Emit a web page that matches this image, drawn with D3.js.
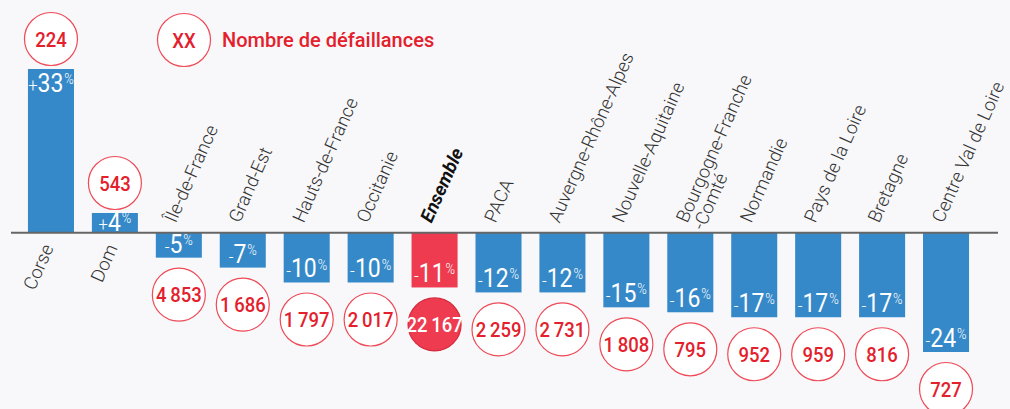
<!DOCTYPE html>
<html>
<head>
<meta charset="utf-8">
<script src="https://cdn.jsdelivr.net/npm/d3@7"></script>
<style>
  body { margin: 0; background: #f8f8fa; }
  svg { display: block; }
</style>
</head>
<body>
<script>
var regions = ["Corse", "Dom", "Île-de-France", "Grand-Est", "Hauts-de-France", "Occitanie", "Ensemble",
  "PACA", "Auvergne-Rhône-Alpes", "Nouvelle-Aquitaine", "Bourgogne-Franche|-Comté", "Normandie",
  "Pays de la Loire", "Bretagne", "Centre Val de Loire"];
var evolution = [33, 4, -5, -7, -10, -10, -11, -12, -12, -15, -16, -17, -17, -17, -24];
var defaillances = [224, 543, 4853, 1686, 1797, 2017, 22167, 2259, 2731, 1808, 795, 952, 959, 816, 727];
var highlight = "Ensemble";

var width = 1010, height = 409;
var blue = "#3589c9", red = "#ee3b4f", textRed = "#e3202c";
var font = "Roboto, sans-serif";

var data = regions.map(function(r, i) {
  return {name: r, evo: evolution[i], nb: defaillances[i]};
});

var svg = d3.select("body").append("svg")
    .attr("width", width)
    .attr("height", height);

var x = d3.scaleBand().domain(regions).range([19, 978]).paddingInner(0.28).paddingOuter(0.14);
var y = d3.scaleLinear().domain([-24, 33]).range([352, 69]);
var y0 = y(0);

var fmt = d3.formatLocale({decimal: ",", thousands: "\u2009", grouping: [3], currency: ["", "€"]}).format(",d");

function cx(d) { return x(d.name) + x.bandwidth() / 2; }

// bars
svg.append("g").selectAll("rect")
    .data(data)
  .enter().append("rect")
    .attr("x", function(d) { return x(d.name); })
    .attr("y", function(d) { return Math.min(y(d.evo), y0); })
    .attr("width", x.bandwidth())
    .attr("height", function(d) { return Math.abs(y(d.evo) - y0); })
    .attr("fill", function(d) { return d.name == highlight ? red : blue; });

// percent labels inside bars
var pct = svg.append("g").selectAll("text")
    .data(data)
  .enter().append("text")
    .attr("transform", function(d) {
      var ty = d.evo > 0 ? Math.min(y(d.evo) + 23, y0 - 2) : y(d.evo) - 5;
      return "translate(" + cx(d) + "," + ty + ") scale(0.92,1)";
    })
    .attr("text-anchor", "middle")
    .attr("fill", "#fff")
    .style("font-family", font);
pct.append("tspan")
    .style("font-size", "18px")
    .style("font-weight", 300)
    .text(function(d) { return d.evo > 0 ? "+" : "-"; });
pct.append("tspan")
    .style("font-size", "25px")
    .text(function(d) { return Math.abs(d.evo); });
pct.append("tspan")
    .style("font-size", "14px")
    .style("font-weight", 300)
    .attr("dx", 1)
    .attr("dy", -8)
    .text("%");

// axis line
svg.append("line")
    .attr("x1", 11).attr("x2", 998)
    .attr("y1", y0).attr("y2", y0)
    .attr("stroke", "#666")
    .attr("stroke-width", 2);

// region labels
var lab = svg.append("g").selectAll("text")
    .data(data)
  .enter().append("text")
    .attr("transform", function(d) {
      return d.evo > 0
        ? "translate(" + (cx(d) + 3) + "," + (y0 + 15) + ") rotate(-66)"
        : "translate(" + (cx(d) - 3) + "," + (y0 - 9) + ") rotate(-66)";
    })
    .attr("text-anchor", function(d) { return d.evo > 0 ? "end" : "start"; })
    .attr("fill", function(d) { return d.name == highlight ? "#111" : "#333"; })
    .style("font-family", font)
    .style("font-weight", function(d) { return d.name == highlight ? 700 : 300; })
    .style("font-style", function(d) { return d.name == highlight ? "italic" : "normal"; })
    .style("font-size", "18.5px");
lab.each(function(d) {
  var parts = d.name.split("|");
  var t = d3.select(this);
  parts.forEach(function(p, i) {
    t.append("tspan")
      .attr("x", 0)
      .attr("dy", i == 0 ? 0 : 18)
      .text(p);
  });
});

// circles with number of failures
var bub = svg.append("g").selectAll("g")
    .data(data)
  .enter().append("g")
    .attr("transform", function(d) {
      var cy = d.evo > 0 ? y(d.evo) - 30 : y(d.evo) + 37;
      return "translate(" + cx(d) + "," + cy + ")";
    });
bub.append("circle")
    .attr("r", 26.5)
    .attr("fill", function(d) { return d.name == highlight ? red : "#fff"; })
    .attr("stroke", function(d) { return d.name == highlight ? "#d42a3c" : "#ee4a57"; })
    .attr("stroke-width", 1.2);
bub.append("text")
    .attr("transform", "scale(0.88,1)")
    .attr("text-anchor", "middle")
    .attr("dy", "0.36em")
    .attr("fill", function(d) { return d.name == highlight ? "#fff" : textRed; })
    .style("font-family", font)
    .style("font-weight", 500)
    .style("font-size", "21px")
    .text(function(d) { return fmt(d.nb); });

// legend
var leg = svg.append("g").attr("transform", "translate(184,40)");
leg.append("circle")
    .attr("r", 26.5)
    .attr("fill", "#fff")
    .attr("stroke", "#ee4a57")
    .attr("stroke-width", 1.2);
leg.append("text")
    .attr("transform", "scale(0.88,1)")
    .attr("text-anchor", "middle")
    .attr("dy", "0.36em")
    .attr("fill", textRed)
    .style("font-family", font)
    .style("font-weight", 500)
    .style("font-size", "21px")
    .text("XX");
leg.append("text")
    .attr("transform", "translate(38,0)")
    .attr("dy", "0.36em")
    .attr("fill", textRed)
    .style("font-family", font)
    .style("font-weight", 500)
    .style("font-size", "20px")
    .text("Nombre de défaillances");
</script>
</body>
</html>
